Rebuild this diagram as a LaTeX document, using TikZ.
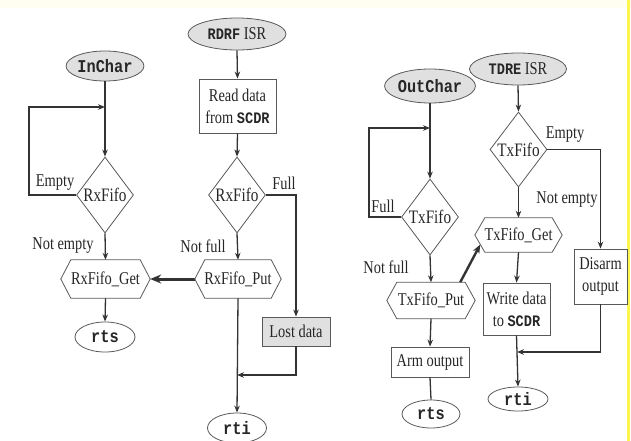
\documentclass[tikz,border=0pt]{standalone}
\usepackage{fontspec}
\setmainfont{Liberation Serif}[FakeStretch=0.8]
\setmonofont{Liberation Mono}[FakeStretch=0.85]
\usetikzlibrary{shapes.geometric,arrows.meta,calc}
\newcommand\codetxt[1]{{\fontsize{16}{18}\selectfont\ttfamily\bfseries #1}}
\begin{document}
\begin{tikzpicture}[x=1pt,y=-1pt,
  every node/.style={font=\fontsize{18}{22}\selectfont, text=black!85},
  term/.style={ellipse, draw=black!65, line width=0.8pt, inner sep=0pt},
  termg/.style={term, fill=black!12},
  box/.style={rectangle, draw=black!65, line width=0.8pt, inner sep=0pt, align=center},
  dec/.style={diamond, draw=black!65, line width=0.8pt, inner sep=0pt, minimum width=57pt, minimum height=76pt},
  dtext/.style={inner sep=0pt, font=\fontsize{19}{22}\selectfont},
  hex/.style={inner sep=0pt, minimum height=38pt},
  flow/.style={draw=black!80, line width=1.3pt, -{Stealth[length=7pt,width=5.5pt]}},
  plain/.style={draw=black!80, line width=1.3pt},
  lbl/.style={inner sep=0pt},
  code/.style={font=\fontsize{18}{20}\selectfont\ttfamily\bfseries}
]
\useasboundingbox (0,0) rectangle (631,441);
\fill[yellow!6] (0,0) rectangle (631,8);
\fill[yellow!70] (627,0) rectangle (630,441);

% ---------- left: InChar ----------
\node[termg, code, minimum width=75pt, minimum height=30pt] (inchar) at (105,66) {InChar};
\node[dec] (rx1) at (105,195) {};
\node[dtext] (rx1t) at (rx1) {RxFifo};
\node[hex, minimum width=89pt] (rget) at (105.5,279) {RxFifo\_Get};
\node[term, code, minimum width=60pt, minimum height=30pt] (rts1) at (105,337) {rts};
\coordinate (j1) at (105,107);
\draw[flow] (inchar.south) -- (rx1.north);
\draw[flow] (rx1.west) -| ($(j1)+(-76,0)$) -- (j1);
\draw[flow] (rx1.south) -- (rget.north);
\draw[flow] (rget.south) -- (rts1.north);
\node[lbl] (lempty1) at (55,183) {Empty};
\node[lbl] (lnotempty1) at (63,246) {Not empty};

% ---------- middle: RDRF ISR ----------
\node[termg, minimum width=98pt, minimum height=32pt] (rdrf) at (237,34) {\codetxt{RDRF} ISR};
\node[box, minimum width=77pt, minimum height=54pt] (read) at (237.5,106) {Read data\\from \codetxt{SCDR}};
\node[dec] (rx2) at (237,195) {};
\node[dtext] (rx2t) at (rx2) {RxFifo};
\node[hex, minimum width=86pt] (rput) at (238,279) {RxFifo\_Put};
\node[box, fill=black!12, minimum width=68pt, minimum height=29pt] (lost) at (296,331.5) {Lost data};
\node[term, code, minimum width=59pt, minimum height=30pt] (rti1) at (237,428) {rti};
\coordinate (m1) at (237,375);
\draw[flow] (rdrf.south) -- (read.north);
\draw[flow] (read.south) -- (rx2.north);
\draw[flow] (rx2.east) -| (lost.north);
\draw[flow] (rx2.south) -- (rput.north);
\draw[draw=black!80, line width=3pt, -{Stealth[length=11pt,width=9pt]}] (rput.west) -- (rget.east);
\draw[flow] (rput.south) -- (rti1.north);
\draw[flow] (lost.south) |- (m1);
\node[lbl] (lfull1) at (284,183) {Full};
\node[lbl] (lnotfull1) at (203,246) {Not full};

% ---------- right: OutChar ----------
\node[termg, code, minimum width=76pt, minimum height=34pt] (outchar) at (430,86) {OutChar};
\node[dec] (tx1) at (430,217) {};
\node[dtext] (tx1t) at (tx1) {TxFifo};
\node[hex, minimum width=88pt, minimum height=36pt] (tput) at (431,300.5) {TxFifo\_Put};
\node[box, minimum width=78pt, minimum height=30pt] (arm) at (430,362) {Arm output};
\node[term, code, minimum width=58pt, minimum height=28pt] (rts2) at (431,414) {rts};
\coordinate (j2) at (430,128);
\draw[flow] (outchar.south) -- (tx1.north);
\draw[flow] (tx1.west) -| ($(j2)+(-61,0)$) -- (j2);
\draw[flow] (tx1.south) -- (tput.north);
\draw[flow] (tput.south) -- (arm.north);
\draw[plain] (arm.south) -- (rts2.north);
\node[lbl] (lfull2) at (383,206) {Full};
\node[lbl] (lnotfull2) at (386,267) {Not full};

% ---------- far right: TDRE ISR ----------
\node[termg, minimum width=97pt, minimum height=32pt] (tdre) at (518,69) {\codetxt{TDRE} ISR};
\node[dec, minimum height=75pt] (tx2) at (518.5,149.5) {};
\node[dtext] (tx2t) at (tx2) {TxFifo};
\node[hex, minimum width=87pt, minimum height=34pt] (tget) at (518.5,235) {TxFifo\_Get};
\node[box, minimum width=53pt, minimum height=55pt] (disarm) at (600.5,276.5) {Disarm\\output};
\node[box, minimum width=67pt, minimum height=52pt] (write) at (516.5,309) {Write data\\to \codetxt{SCDR}};
\node[term, code, minimum width=60pt, minimum height=24pt] (rti2) at (518,399) {rti};
\coordinate (m2) at (517,352);
\draw[flow] (tdre.south) -- (tx2.north);
\draw[flow] (tx2.east) -| (disarm.north);
\draw[flow] (tx2.south) -- (tget.north);
\draw[flow] (tget.south) -- (write.north);
\draw[flow] (write.south) -- (rti2.north);
\draw[flow] (disarm.south) |- (m2);
\draw[draw=black!80, line width=2.4pt, -{Stealth[length=9pt,width=7pt]}]
  ([xshift=-15pt]tput.north east) -- ($(tget.west)!0.55!([xshift=10pt]tget.south west)$);
\node[lbl] (lempty2) at (565,135) {Empty};
\node[lbl] (lnotempty2) at (567,200) {Not empty};

% ---------- hexagon outlines ----------
\foreach \n in {rget,rput,tput,tget}
  \draw[black!65, line width=0.8pt] (\n.west) -- ([xshift=10pt]\n.north west) -- ([xshift=-10pt]\n.north east)
    -- (\n.east) -- ([xshift=-10pt]\n.south east) -- ([xshift=10pt]\n.south west) -- cycle;
\end{tikzpicture}
\end{document}
